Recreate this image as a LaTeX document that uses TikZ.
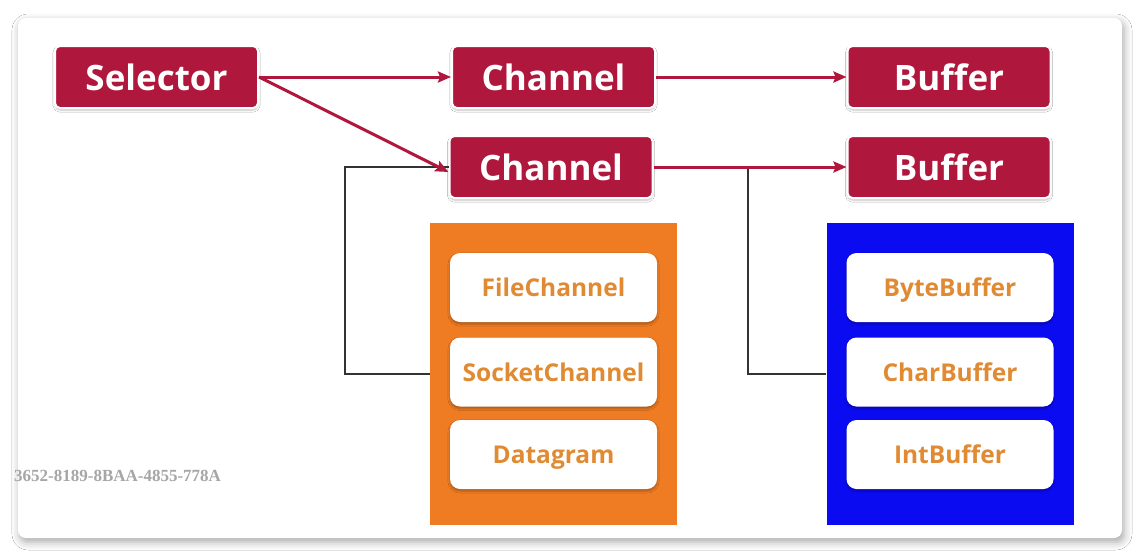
\documentclass[tikz,border=0pt]{standalone}
\usepackage{fontspec}
\setmainfont{Open Sans}
\usetikzlibrary{arrows.meta,shadows.blur}
\definecolor{nred}{HTML}{B0173D}
\definecolor{norange}{HTML}{EF7B22}
\definecolor{nblue}{HTML}{0B0BF2}
\definecolor{ntext}{HTML}{E08B33}
\definecolor{nline}{HTML}{333333}
\tikzset{
  redbox/.style={draw=white, line width=2pt, fill=nred, rounded corners=5pt,
    minimum width=203pt, minimum height=62pt, text=white, inner sep=0pt,
    font=\fontsize{35}{35}\selectfont\bfseries,
    blur shadow={shadow xshift=0pt, shadow yshift=-2pt, shadow blur steps=6, shadow opacity=25}},
  itembox/.style={fill=white, rounded corners=10pt, minimum width=207pt, minimum height=69pt,
    text=ntext, font=\fontsize{24.5}{24.5}\selectfont\bfseries, text depth=0pt, inner sep=0pt,
    blur shadow={shadow xshift=0pt, shadow yshift=-2pt, shadow blur steps=4, shadow opacity=30}},
  panel/.style={minimum width=247pt, minimum height=302pt},
  flow/.style={draw=nred, line width=3pt, -{Stealth[length=13pt,width=11pt,inset=2pt]}},
  link/.style={draw=nline, line width=2pt},
}
\begin{document}
\begin{tikzpicture}[x=1pt,y=-1pt]
  % page and card
  \useasboundingbox (0,0) rectangle (1140,557);
  \fill[white] (0,0) rectangle (1140,557);
  \fill[white, rounded corners=8pt,
    blur shadow={shadow xshift=2pt, shadow yshift=-4pt, shadow blur radius=8pt, shadow opacity=35}]
    (18,18) rectangle (1122,538);

  % watermark
  \node[anchor=west, text=black!35, inner sep=0pt,
    font=\fontspec{Liberation Serif}\fontsize{17}{17}\selectfont\bfseries]
    (wm) at (14,476) {3652-8189-8BAA-4855-778A};

  % top row
  \node[redbox] (sel) at (156.5,77) {Selector};
  \node[redbox] (ch1) at (553.5,77) {Channel};
  \node[redbox] (bf1) at (949,77) {Buffer};
  % second row
  \node[redbox] (ch2) at (551,167) {Channel};
  \node[redbox] (bf2) at (949,167) {Buffer};

  % channel panel
  \node[panel, fill=norange] (chp) at (553.5,374) {};
  \node[itembox] (fc) at (553.5,287.5) {FileChannel};
  \node[itembox] (sc) at (553.5,372) {SocketChannel};
  \node[itembox] (dg) at (553.5,454.5) {Datagram};

  % buffer panel
  \node[panel, fill=nblue] (bfp) at (950,374) {};
  \node[itembox] (bb) at (950,287.5) {ByteBuffer};
  \node[itembox] (cb) at (950,372) {CharBuffer};
  \node[itembox] (ib) at (950,454.5) {IntBuffer};

  % hierarchy links
  \coordinate (bj) at (748,167);
  \draw[link] (ch2.west) -- (345,167) |- (chp.west);
  \draw[link] (bj) |- (bfp.west);

  % flow arrows
  \draw[flow] (sel.east) -- (ch1.west);
  \draw[flow] (sel.east) -- ([yshift=-5pt]ch2.west);
  \draw[flow] (ch1.east) -- (bf1.west);
  \draw[flow] (ch2.east) -- (bf2.west);
\end{tikzpicture}
\end{document}
